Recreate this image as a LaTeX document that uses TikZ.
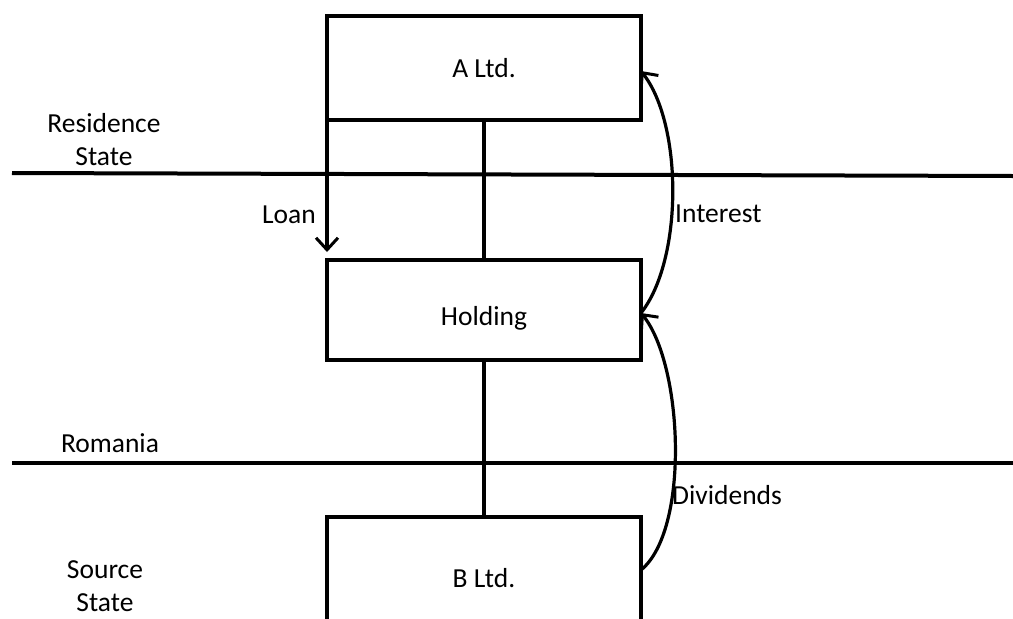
\documentclass[tikz,border=0pt]{standalone}
\usepackage{fontspec}
\setmainfont{Carlito}
\usetikzlibrary{arrows.meta}
\begin{document}
\begin{tikzpicture}[x=1pt,y=-1pt,
  entity/.style={draw=black,line width=4pt,fill=white,minimum width=314pt,inner sep=0pt,outer sep=0pt,font=\fontsize{27.5}{33}\selectfont},
  lbl/.style={font=\fontsize{27.5}{33}\selectfont,align=center,inner sep=0pt},
  conn/.style={line width=4pt},
  flow/.style={line width=3.2pt,-{Straight Barb[length=12pt,width=22pt,line width=3pt]}}]
\useasboundingbox (0,0) rectangle (1013,619);
\begin{scope}
\clip (0,0) rectangle (1013,619);
% border lines
\coordinate (r1) at (12,173);
\coordinate (r2) at (1013,176);
\coordinate (m1) at (12,463);
\coordinate (m2) at (1013,463);
\draw[conn] (r1) -- (r2);
\draw[conn] (m1) -- (m2);
% boxes
\node[entity,minimum height=104pt] (A) at (484,68) {A Ltd.};
\node[entity,minimum height=100pt] (H) at (484,310) {};
\node[lbl] (Ht) at (484,318) {Holding};
\node[entity,minimum height=110pt] (B) at (484,572) {};
\node[lbl] (Bt) at (484,578) {B Ltd.};
% vertical links
\draw[conn] (A.south) -- (H.north);
\draw[conn] (H.south) -- (B.north);
% loan
\coordinate (loanend) at (327,252);
\draw[flow] (A.south west) -- (loanend);
\node[lbl,anchor=east] (loan) at (316,215) {Loan};
% interest
\coordinate (Hr) at (641,313);
\coordinate (Ar) at (641,71);
\draw[flow] (Hr) .. controls (683,260) and (683,125) .. (Ar);
\node[lbl,anchor=west] (int) at (675,214) {Interest};
% dividends
\coordinate (Br) at (641,570);
\draw[flow] (Br) .. controls (690,530) and (683,365) .. (Hr);
\node[lbl,anchor=west] (div) at (672,495) {Dividends};
% state labels
\node[lbl] (res) at (104,140) {Residence\\State};
\node[lbl] (rom) at (110,443) {Romania};
\node[lbl] (src) at (105,586) {Source\\State};
\end{scope}
\end{tikzpicture}
\end{document}
